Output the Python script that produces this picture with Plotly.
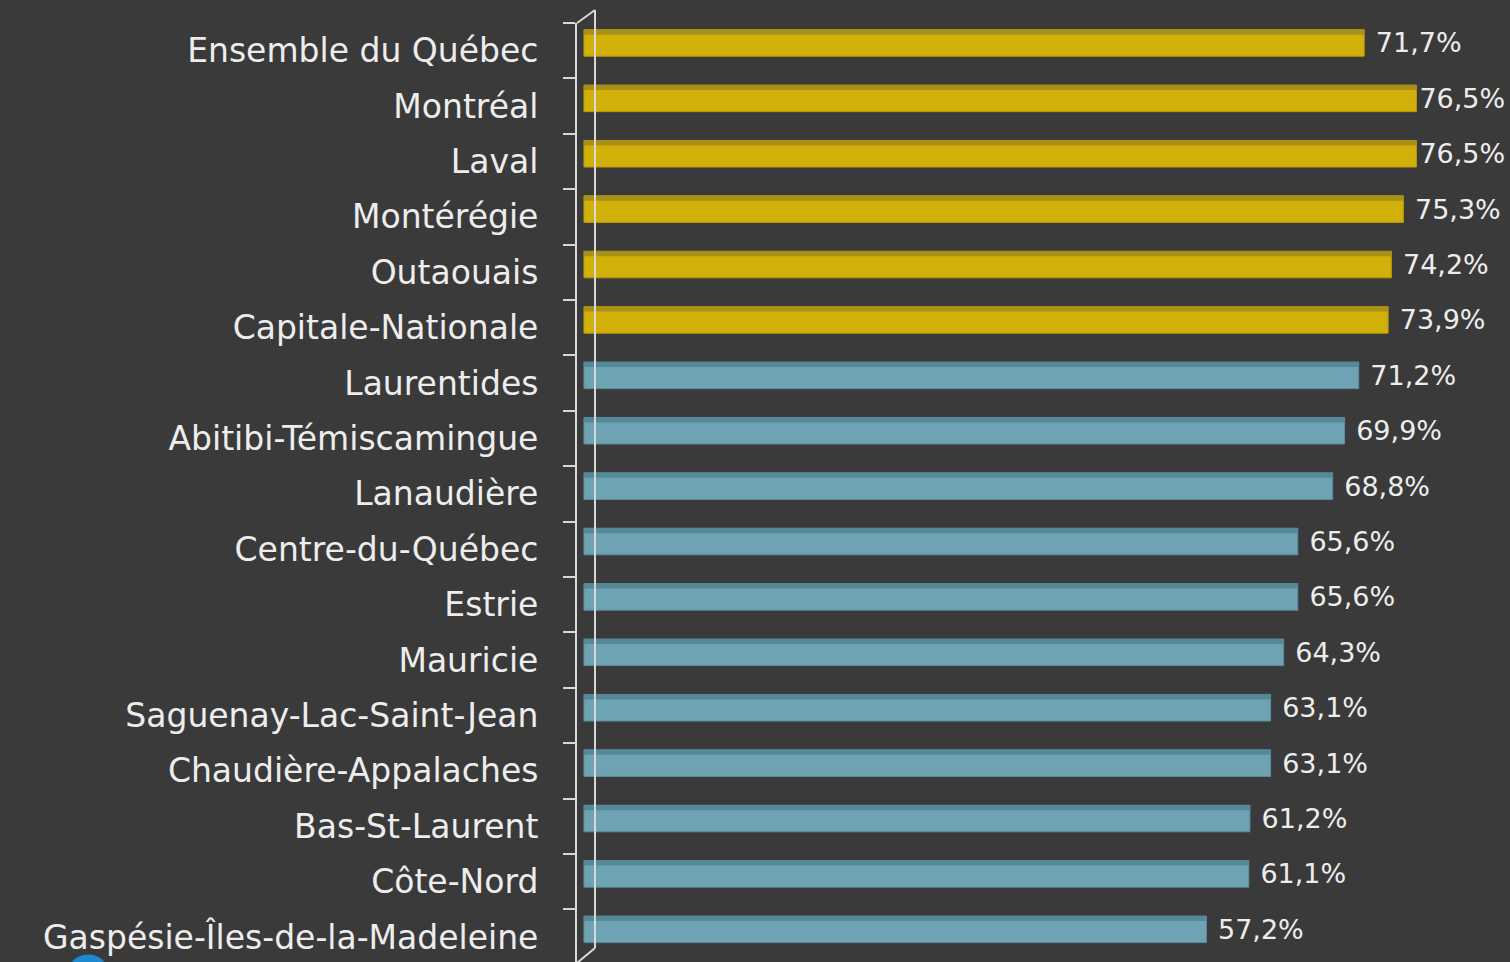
import plotly.graph_objects as go

regions = ["Ensemble du Québec", "Montréal", "Laval", "Montérégie", "Outaouais",
           "Capitale-Nationale", "Laurentides", "Abitibi-Témiscamingue", "Lanaudière",
           "Centre-du-Québec", "Estrie", "Mauricie", "Saguenay-Lac-Saint-Jean",
           "Chaudière-Appalaches", "Bas-St-Laurent", "Côte-Nord",
           "Gaspésie-Îles-de-la-Madeleine"]
values = [71.7, 76.5, 76.5, 75.3, 74.2, 73.9, 71.2, 69.9, 68.8, 65.6, 65.6, 64.3,
          63.1, 63.1, 61.2, 61.1, 57.2]
n_high = 6  # first six regions highlighted in yellow

front_cols = ["#D2B00A" if i < n_high else "#6EA3B3" for i in range(len(regions))]
top_cols = ["#A8901A" if i < n_high else "#55899A" for i in range(len(regions))]
line_cols = ["#B89A08" if i < n_high else "#5A8D9C" for i in range(len(regions))]
# labels of the longest bars sit tight against the bar end (as in the original)
templates = ["%{x:.1f}%" if v >= 76 else " %{x:.1f}%" for v in values]

BG = "#3A3A3A"
TXT = "#EDEDED"
FONT = "DejaVu Sans"

fig = go.Figure()
fig.add_trace(go.Bar(
    y=regions, x=values, orientation="h",
    width=0.48, offset=-0.38,
    marker=dict(color=front_cols, line=dict(color=line_cols, width=1)),
    texttemplate=templates, textposition="outside",
    textfont=dict(family=FONT, size=27, color=TXT),
    constraintext="none", cliponaxis=False,
    hoverinfo="skip", showlegend=False,
))
fig.add_trace(go.Bar(
    y=regions, x=values, orientation="h",
    width=0.09, offset=-0.38,
    marker=dict(color=top_cols, line=dict(width=0)),
    hoverinfo="skip", showlegend=False,
))

# 3D wall decoration lines (paper coordinates)
wall = dict(color="#D8D8D8", width=2)
shapes = [
    dict(type="line", xref="paper", yref="paper", x0=0, y0=1.0, x1=0.0193, y1=1.0138, line=wall),
    dict(type="line", xref="paper", yref="paper", x0=0.0193, y0=1.0138, x1=0.0193, y1=0.0149, line=wall),
    dict(type="line", xref="paper", yref="paper", x0=0.0193, y0=0.0149, x1=0, y1=-0.001, line=wall),
    dict(type="circle", xref="paper", yref="paper", x0=-0.543, y0=-0.02, x1=-0.505, y1=0.008,
         fillcolor="#1E88D0", line=dict(width=0)),
]

fig.update_layout(
    width=1510, height=962,
    paper_bgcolor=BG, plot_bgcolor=BG,
    margin=dict(l=577, r=0, t=23, b=0),
    barmode="overlay",
    separators=", ",
    shapes=shapes,
    xaxis=dict(range=[-0.64, 85.1], visible=False, showgrid=False, zeroline=False),
    yaxis=dict(
        autorange=False, range=[16.45, -0.5], type="category",
        showline=True, linecolor="#D8D8D8", linewidth=2,
        ticks="outside", tickson="boundaries", ticklen=12, tickwidth=2, tickcolor="#D8D8D8",
        ticklabelstandoff=30,
        tickfont=dict(family=FONT, size=33, color=TXT),
        showgrid=False, zeroline=False,
    ),
)

fig.write_html(
    "out.html",
    config={"displayModeBar": False},
    post_script="document.body.style.margin='0';document.body.style.background='#3A3A3A';",
)
